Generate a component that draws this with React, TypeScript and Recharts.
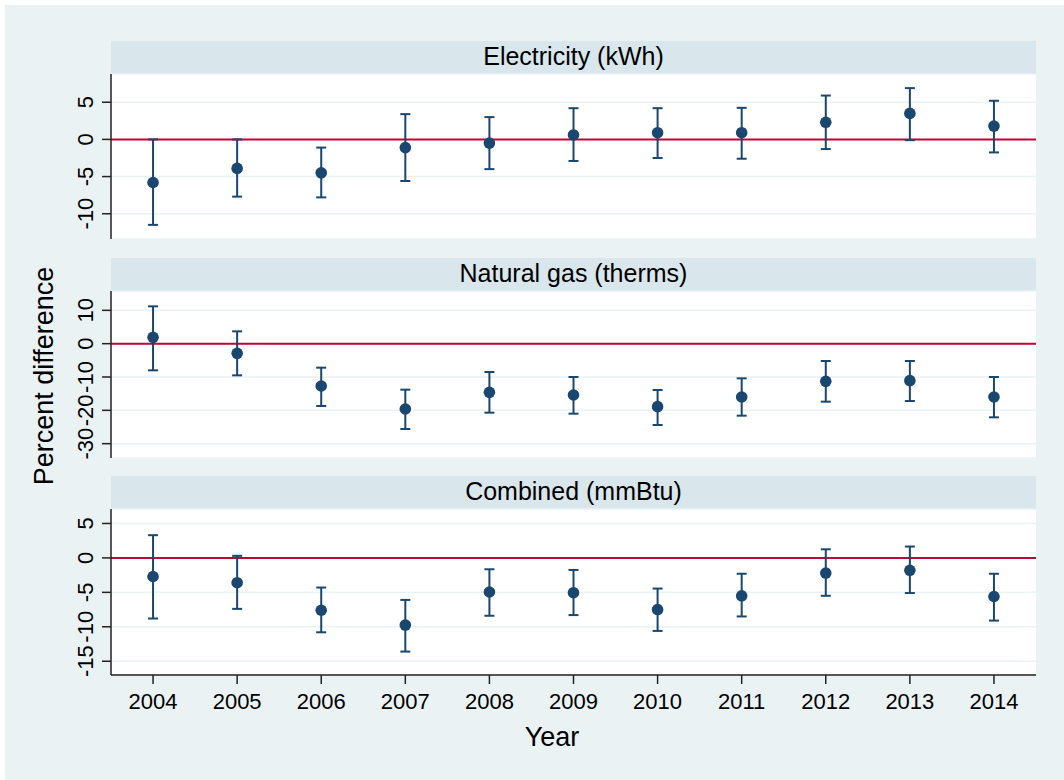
import React from "react";
import {
  ComposedChart,
  Scatter,
  ErrorBar,
  XAxis,
  YAxis,
  CartesianGrid,
  ReferenceLine,
} from "recharts";

const years = [2004, 2005, 2006, 2007, 2008, 2009, 2010, 2011, 2012, 2013, 2014];

const elecEst = [-5.8, -3.9, -4.5, -1.1, -0.5, 0.6, 0.9, 0.9, 2.3, 3.5, 1.8];
const elecLo = [-11.5, -7.7, -7.8, -5.6, -4.0, -2.9, -2.5, -2.6, -1.3, -0.1, -1.75];
const elecHi = [0.0, 0.0, -1.1, 3.4, 3.0, 4.2, 4.2, 4.25, 5.9, 6.9, 5.2];

const gasEst = [1.9, -2.9, -12.7, -19.6, -14.6, -15.4, -18.9, -16.0, -11.3, -11.1, -16.0];
const gasLo = [-8.0, -9.5, -18.7, -25.6, -20.7, -21.0, -24.4, -21.6, -17.4, -17.2, -22.1];
const gasHi = [11.2, 3.7, -7.2, -13.8, -8.5, -10.0, -13.9, -10.4, -5.2, -5.2, -10.0];

const combEst = [-2.7, -3.6, -7.6, -9.75, -4.95, -5.05, -7.5, -5.5, -2.2, -1.8, -5.6];
const combLo = [-8.8, -7.4, -10.8, -13.6, -8.4, -8.3, -10.6, -8.5, -5.5, -5.1, -9.1];
const combHi = [3.3, 0.3, -4.3, -6.1, -1.65, -1.75, -4.45, -2.3, 1.25, 1.65, -2.3];

const elecTicks = [-10, -5, 0, 5];
const gasTicks = [-30, -20, -10, 0, 10];
const combTicks = [-15, -10, -5, 0, 5];

const NAVY = "#1a476f";
const RED = "#c10534";
const BG = "#eaf2f3";
const STRIP = "#d9e6eb";
const FONT = "'Liberation Sans', Arial, sans-serif";

const PLOT_L = 111;
const PLOT_R = 1036;
const W = 1064;
const PAD = 12; // room so rotated tick labels at the plot edges are not clipped

const build = (est: number[], lo: number[], hi: number[]) =>
  years.map((year, i) => ({
    year,
    v: est[i],
    err: [est[i] - lo[i], hi[i] - est[i]],
  }));

const YTick = (props: any) => {
  const { x, y, payload } = props;
  return (
    <text
      transform={`translate(${x - 7},${y}) rotate(-90)`}
      textAnchor="middle"
      fontSize={22}
      fontFamily={FONT}
      fill="#000"
    >
      {payload.value}
    </text>
  );
};

const XTick = (props: any) => {
  const { x, y, payload } = props;
  return (
    <text x={x} y={y + 23} textAnchor="middle" fontSize={22} fontFamily={FONT} fill="#000">
      {payload.value}
    </text>
  );
};

const Dot = (props: any) => {
  const { cx, cy } = props;
  if (cx == null || cy == null) return null;
  return <circle cx={cx} cy={cy} r={5.8} fill={NAVY} />;
};

type PanelProps = {
  top: number;
  plotH: number;
  data: { year: number; v: number; err: number[] }[];
  domain: [number, number];
  ticks: number[];
  showX?: boolean;
};

function Panel({ top, plotH, data, domain, ticks, showX }: PanelProps) {
  const xH = showX ? 50 : 0;
  const bottomPad = showX ? 0 : PAD;
  return (
    <div style={{ position: "absolute", left: 0, top: top - PAD }}>
      <ComposedChart
        width={W}
        height={plotH + xH + PAD + bottomPad}
        data={data}
        margin={{ top: PAD, right: W - PLOT_R, bottom: bottomPad, left: PLOT_L - 60 }}
      >
        <CartesianGrid vertical={false} stroke={BG} strokeWidth={1.5} />
        <XAxis
          dataKey="year"
          type="number"
          domain={[2003.5, 2014.5]}
          ticks={years}
          allowDataOverflow
          hide={!showX}
          height={xH}
          tickSize={9}
          tick={<XTick />}
          axisLine={{ stroke: "#222", strokeWidth: 1.5 }}
          tickLine={{ stroke: "#222", strokeWidth: 1.5 }}
        />
        <YAxis
          type="number"
          domain={domain}
          ticks={ticks}
          allowDataOverflow
          width={60}
          tickSize={9}
          tick={<YTick />}
          axisLine={{ stroke: "#222", strokeWidth: 1.5 }}
          tickLine={{ stroke: "#222", strokeWidth: 1.5 }}
          interval={0}
        />
        <ReferenceLine y={0} stroke={RED} strokeWidth={2} />
        <Scatter dataKey="v" shape={<Dot />} isAnimationActive={false}>
          <ErrorBar dataKey="err" direction="y" width={5} strokeWidth={2} stroke={NAVY} />
        </Scatter>
      </ComposedChart>
    </div>
  );
}

const strips = [
  { top: 41, plotTop: 74, plotH: 165, title: "Electricity (kWh)" },
  { top: 258, plotTop: 291, plotH: 167, title: "Natural gas (therms)" },
  { top: 476, plotTop: 509, plotH: 166, title: "Combined (mmBtu)" },
];

export default function App() {
  const cx = (PLOT_L + PLOT_R) / 2;
  return (
    <div style={{ position: "absolute", left: 0, top: 0, width: W, height: 780, background: "#fff" }}>
      <svg width={W} height={780} style={{ position: "absolute", left: 0, top: 0 }}>
        <rect x={5} y={5} width={W - 5} height={775} fill={BG} />
        {strips.map((s) => (
          <g key={s.title}>
            <rect x={PLOT_L} y={s.top} width={PLOT_R - PLOT_L} height={33} fill={STRIP} />
            <rect x={PLOT_L} y={s.plotTop} width={PLOT_R - PLOT_L} height={s.plotH} fill="#fff" />
            <text x={cx} y={s.top + 24} textAnchor="middle" fontSize={25} fontFamily={FONT} fill="#000">
              {s.title}
            </text>
          </g>
        ))}
        <text x={552} y={746} textAnchor="middle" fontSize={27} fontFamily={FONT} fill="#000">
          Year
        </text>
        <text
          transform="translate(53,376) rotate(-90)"
          textAnchor="middle"
          fontSize={27}
          fontFamily={FONT}
          fill="#000"
        >
          Percent difference
        </text>
      </svg>
      <Panel top={74} plotH={165} data={build(elecEst, elecLo, elecHi)} domain={[-13.4, 8.8]} ticks={elecTicks} />
      <Panel top={291} plotH={167} data={build(gasEst, gasLo, gasHi)} domain={[-34.3, 15.8]} ticks={gasTicks} />
      <Panel top={509} plotH={166} data={build(combEst, combLo, combHi)} domain={[-17.0, 7.1]} ticks={combTicks} showX />
    </div>
  );
}
